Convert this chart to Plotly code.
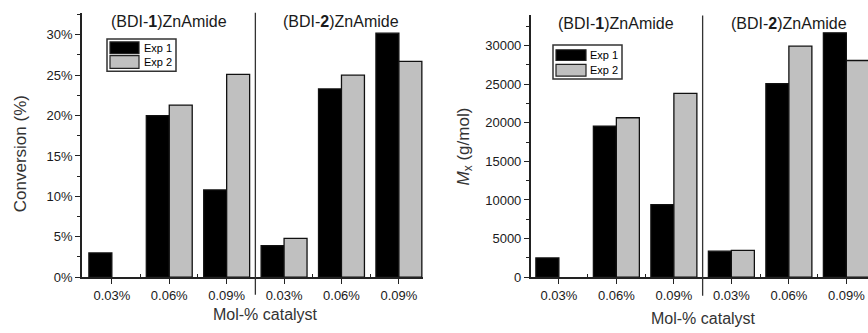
import plotly.graph_objects as go

categories = ["0.03%", "0.06%", "0.09%", "0.03%", "0.06%", "0.09%"]
groups = ["(BDI-<b>1</b>)ZnAmide", "(BDI-<b>2</b>)ZnAmide"]
series_names = ["Exp 1", "Exp 2"]
conv_exp1 = [3.0, 20.0, 10.8, 3.9, 23.3, 30.2]
conv_exp2 = [None, 21.3, 25.1, 4.8, 25.0, 26.7]
mw_exp1 = [2500, 19550, 9400, 3370, 25070, 31650]
mw_exp2 = [None, 20650, 23800, 3460, 29920, 28070]
conv_ticks = [0, 5, 10, 15, 20, 25, 30]
mw_ticks = [0, 5000, 10000, 15000, 20000, 25000, 30000]

W, H = 868, 333
FONT = "Liberation Sans, Arial, sans-serif"
BLACK = "#000000"
GREY = "#c0c0c0"
TXT = "#1a1a1a"
pos = list(range(1, len(categories) + 1))

def px(x):
    return x / W

def py(y):
    return (H - y) / H

fig = go.Figure()
for vals, color, xa, ya in [
    (conv_exp1, BLACK, "x", "y"), (conv_exp2, GREY, "x", "y"),
    (mw_exp1, BLACK, "x2", "y2"), (mw_exp2, GREY, "x2", "y2"),
]:
    fig.add_trace(go.Bar(
        x=pos, y=vals, xaxis=xa, yaxis=ya, showlegend=False,
        marker=dict(color=color, line=dict(color="#111111", width=1.3)),
        offsetgroup="a" if color == BLACK else "b",
    ))

axis_common = dict(showgrid=False, zeroline=False, showline=True,
                   linecolor="#222222", linewidth=1.5,
                   tickfont=dict(family=FONT, size=13, color=TXT),
                   ticks="outside", tickcolor="#222222", tickwidth=1.3, ticklen=5)

fig.update_layout(
    width=W, height=H, margin=dict(l=0, r=0, t=0, b=0),
    paper_bgcolor="white", plot_bgcolor="white",
    barmode="group", bargap=0.2, bargroupgap=0,
    xaxis=dict(domain=[px(82), px(423)], range=[0.48, 6.42],
               tickvals=pos, ticktext=categories, anchor="y",
               minor=dict(tickvals=[1.5, 2.5, 3.5, 4.5, 5.5], ticks="inside", ticklen=3,
                          tickcolor="#222222", tickwidth=1.2),
               **axis_common),
    yaxis=dict(domain=[py(284), py(13)], range=[0, 32.73], anchor="x",
               tickvals=conv_ticks, ticktext=[f"{t}%" for t in conv_ticks],
               minor=dict(dtick=2.5, tick0=0, ticks="outside", ticklen=3,
                          tickcolor="#222222", tickwidth=1.2),
               **axis_common),
    xaxis2=dict(domain=[px(530.7), 1.0], range=[0.51, 6.376],
                tickvals=pos, ticktext=categories, anchor="y2",
                minor=dict(tickvals=[1.5, 2.5, 3.5, 4.5, 5.5], ticks="inside", ticklen=3,
                           tickcolor="#222222", tickwidth=1.2),
                **axis_common),
    yaxis2=dict(domain=[py(284), py(15)], range=[0, 34010], anchor="x2",
                tickvals=mw_ticks, ticktext=[str(t) for t in mw_ticks],
                minor=dict(dtick=2500, tick0=0, ticks="outside", ticklen=3,
                           tickcolor="#222222", tickwidth=1.2),
                **axis_common),
)

shapes = []
annotations = []
# divider lines between the two catalysts
shapes.append(dict(type="line", xref="x", yref="paper", x0=3.5, x1=3.5,
                   y0=py(302), y1=py(13), line=dict(color="#333333", width=1.3)))
shapes.append(dict(type="line", xref="x2", yref="paper", x0=3.5, x1=3.5,
                   y0=py(303), y1=py(16), line=dict(color="#333333", width=1.3)))

# group labels
for xa, yy in [("x", 22), ("x2", 24)]:
    for gi, g in enumerate(groups):
        annotations.append(dict(text=g, xref=xa, yref="paper", x=2 + 3 * gi, y=py(yy),
                                showarrow=False, xanchor="center", yanchor="middle",
                                font=dict(family=FONT, size=16, color=TXT)))

# legends
def legend(x0, y0, x1, y1, sw_x0, sw_x1, rows, tx):
    shapes.append(dict(type="rect", xref="paper", yref="paper",
                       x0=px(x0), x1=px(x1), y0=py(y1), y1=py(y0),
                       line=dict(color="#333333", width=1.5), fillcolor="white"))
    for (ya, yb), color, name in zip(rows, [BLACK, GREY], series_names):
        shapes.append(dict(type="rect", xref="paper", yref="paper",
                           x0=px(sw_x0), x1=px(sw_x1), y0=py(yb), y1=py(ya),
                           line=dict(color="#222222", width=1.2), fillcolor=color))
        annotations.append(dict(text=name, xref="paper", yref="paper",
                                x=px(tx), y=py((ya + yb) / 2), showarrow=False,
                                xanchor="left", yanchor="middle",
                                font=dict(family=FONT, size=11, color="#000000")))

legend(107, 40, 176, 73, 110, 139, [(43, 55), (57, 70)], 142)
legend(553, 46, 622, 81, 556, 586, [(51, 62), (66, 78)], 588)

# axis titles
annotations.append(dict(text="Conversion (%)", xref="paper", yref="paper",
                        x=px(20), y=py(158), textangle=-90, showarrow=False,
                        xanchor="center", yanchor="middle",
                        font=dict(family=FONT, size=17, color="#333333")))
annotations.append(dict(text="<i>M</i><sub>x</sub> (g/mol)", xref="paper", yref="paper",
                        x=px(465), y=py(150), textangle=-90, showarrow=False,
                        xanchor="center", yanchor="middle",
                        font=dict(family=FONT, size=17, color="#333333")))
annotations.append(dict(text="Mol-% catalyst", xref="paper", yref="paper",
                        x=px(265), y=py(322), showarrow=False,
                        xanchor="center", yanchor="middle",
                        font=dict(family=FONT, size=16, color="#333333")))
annotations.append(dict(text="Mol-% catalyst", xref="paper", yref="paper",
                        x=px(703), y=py(326), showarrow=False,
                        xanchor="center", yanchor="middle",
                        font=dict(family=FONT, size=16, color="#333333")))

fig.update_layout(shapes=shapes, annotations=annotations)
fig.write_html("out.html", config={"displayModeBar": False},
               post_script="document.body.style.margin='0';document.body.style.overflow='hidden';")
